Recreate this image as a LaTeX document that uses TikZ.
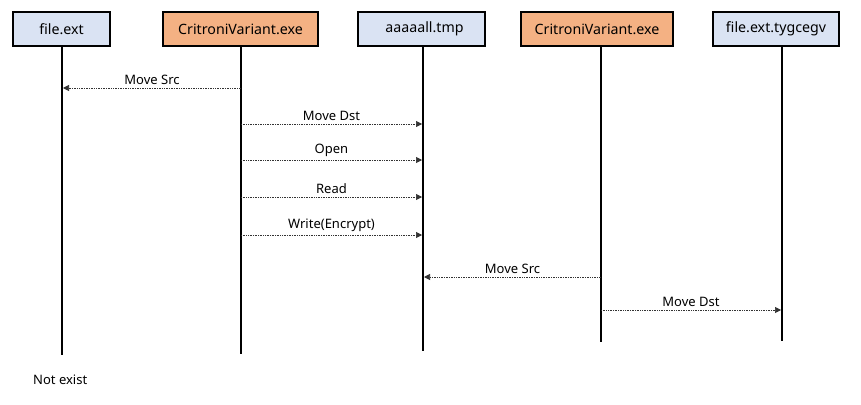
\documentclass[tikz,border=0pt]{standalone}
\usepackage{fontspec}
\setmainfont{Noto Sans}
\usetikzlibrary{arrows.meta}
\definecolor{fileblue}{HTML}{DAE3F3}
\definecolor{exeorange}{HTML}{F4B183}
\begin{document}
\begin{tikzpicture}[x=1pt,y=-1pt,
  hdr/.style={draw=black,line width=1.6pt,minimum height=34pt,inner sep=0pt,font=\fontsize{14.2}{16}\selectfont},
  filebox/.style={hdr,fill=fileblue},
  exebox/.style={hdr,fill=exeorange},
  life/.style={line width=1.6pt,black},
  msg/.style={densely dotted,line width=0.7pt,draw=black!80,-{Triangle[length=6pt,width=6pt]}},
  lbl/.style={font=\fontsize{13}{15}\selectfont,anchor=south,inner sep=1pt,yshift=2.5pt}]
\useasboundingbox[fill=white] (0,0) rectangle (861,404);
\node[filebox,minimum width=97pt] (b1) at (61.5,29) {file.ext};
\node[exebox,minimum width=155pt] (b2) at (240.5,29) {CritroniVariant.exe};
\node[filebox,minimum width=127pt] (b3) at (421.5,29) {\hspace{6pt}aaaaall.tmp};
\node[exebox,minimum width=152pt] (b4) at (597,29) {CritroniVariant.exe};
\node[filebox,minimum width=126pt] (b5) at (776,29) {file.ext.tygcegv};
\coordinate (e1) at (62,355);
\coordinate (e2) at (241,354);
\coordinate (e3) at (423,351);
\coordinate (e4) at (601,342);
\coordinate (e5) at (782,341);
\draw[life] (b1.south -| e1) -- (e1);
\draw[life] (b2.south -| e2) -- (e2);
\draw[life] (b3.south -| e3) -- (e3);
\draw[life] (b4.south -| e4) -- (e4);
\draw[life] (b5.south -| e5) -- (e5);
\coordinate (m1s) at (241,88); \coordinate (m1e) at (63,88);
\coordinate (m2s) at (241,124); \coordinate (m2e) at (422,124);
\coordinate (m3s) at (241,160); \coordinate (m3e) at (422,160);
\coordinate (m4s) at (241,197); \coordinate (m4e) at (422,197);
\coordinate (m5s) at (241,235); \coordinate (m5e) at (422,235);
\coordinate (m6s) at (601,277); \coordinate (m6e) at (424,277);
\coordinate (m7s) at (601,310); \coordinate (m7e) at (781,310);
\draw[msg] (m1s) -- node[lbl,pos=0.5] (l1) {Move Src} (m1e);
\draw[msg] (m2s) -- node[lbl,pos=0.5] (l2) {Move Dst} (m2e);
\draw[msg] (m3s) -- node[lbl,pos=0.5] (l3) {Open} (m3e);
\draw[msg] (m4s) -- node[lbl,pos=0.5] (l4) {Read} (m4e);
\draw[msg] (m5s) -- node[lbl,pos=0.5] (l5) {Write(Encrypt)} (m5e);
\draw[msg] (m6s) -- node[lbl,pos=0.5] (l6) {Move Src} (m6e);
\draw[msg] (m7s) -- node[lbl,pos=0.5] (l7) {Move Dst} (m7e);
\node[font=\fontsize{13}{15}\selectfont,anchor=west,inner sep=0pt] (ne) at (33,380) {Not exist};
\end{tikzpicture}
\end{document}
